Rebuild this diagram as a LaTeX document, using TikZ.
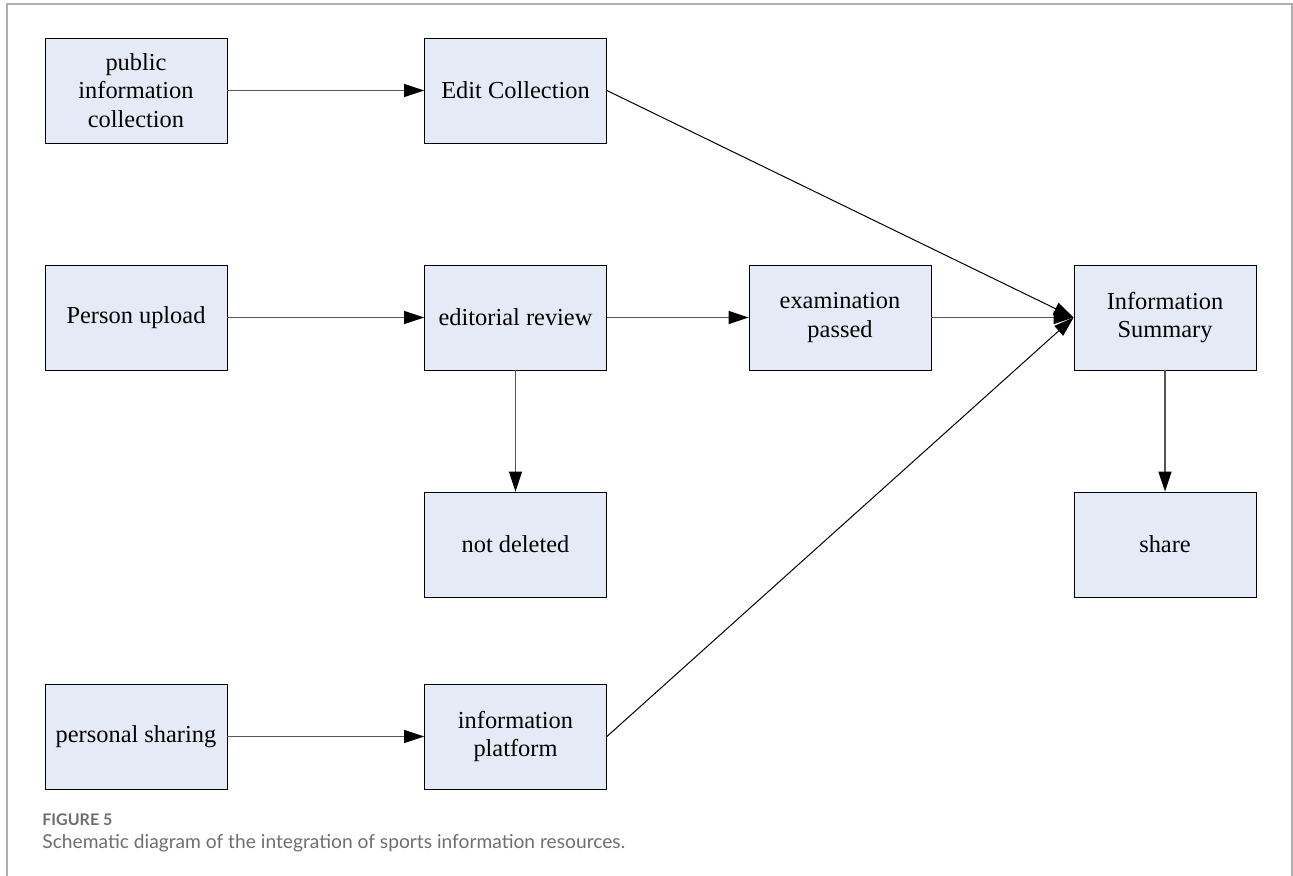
\documentclass[tikz,border=0pt]{standalone}
\usepackage{fontspec}
\setmainfont{Liberation Serif}
\newfontfamily\capfont{Lato}
\usetikzlibrary{arrows.meta}
\definecolor{boxfill}{RGB}{229,235,246}
\definecolor{linegray}{RGB}{85,85,85}
\definecolor{framegray}{RGB}{175,175,175}
\definecolor{capgray}{RGB}{110,110,110}
\begin{document}
\begin{tikzpicture}[
	x=0.5pt, y=-0.5pt,
	box/.style={draw=black, rectangle, minimum width=91pt, minimum height=52.5pt, inner sep=1pt, fill=boxfill, align=center, font=\fontsize{12.2}{14.2}\selectfont},
	>={Triangle[length=10pt, width=6.5pt, color=black, fill=black]}
	]
	
	%-----------------------
	% Frame and page size
	%-----------------------
	\useasboundingbox (0,0) rectangle (1293,876);
	\draw[framegray, line width=0.8pt] (7,876) -- (7,4) -- (1292,4) -- (1292,876);
	
	%-----------------------
	% Customizable positions
	%-----------------------
	\def\hone{90.5}    % Row 1: public collection
	\def\htwo{317.5}   % Row 2: upload and review
	\def\hthree{544.5} % Row 3: not deleted, share
	\def\hfour{736.5}  % Row 4: personal sharing
	\def\cone{136}     % Column 1
	\def\ctwo{515.5}   % Column 2
	\def\cthree{840}   % Column 3
	\def\cfour{1165}   % Column 4
	
	%-----------------------
	% Row 1
	%-----------------------
	\node[box] (pub) at (\cone,\hone) {public\\information\\collection};
	\node[box] (edit) at (\ctwo,\hone) {Edit Collection};
	
	%-----------------------
	% Row 2
	%-----------------------
	\node[box] (upload) at (\cone,\htwo) {Person upload};
	\node[box] (review) at (\ctwo,\htwo) {editorial review};
	\node[box] (exam) at (\cthree,\htwo) {examination\\passed};
	\node[box] (summary) at (\cfour,\htwo) {Information\\Summary};
	
	%-----------------------
	% Row 3
	%-----------------------
	\node[box] (notdel) at (\ctwo,\hthree) {not deleted};
	\node[box] (share) at (\cfour,\hthree) {share};
	
	%-----------------------
	% Row 4
	%-----------------------
	\node[box] (personal) at (\cone,\hfour) {personal sharing};
	\node[box] (platform) at (\ctwo,\hfour) {information\\platform};
	
	%-----------------------
	% Connections
	%-----------------------
	\tikzset{connect/.style={->, linegray, line width=0.7pt},
		diag/.style={->, black, line width=0.5pt}}
	
	% straight arrows
	\draw[connect] (pub.east) -- (edit.west);
	\draw[connect] (upload.east) -- (review.west);
	\draw[connect] (review.east) -- (exam.west);
	\draw[connect] (exam.east) -- (summary.west);
	\draw[connect] (personal.east) -- (platform.west);
	\draw[connect] (review.south) -- (notdel.north);
	\draw[connect] (summary.south) -- (share.north);
	
	% slanted arrows into the summary
	\draw[diag] (edit.east) -- (summary.west);
	\draw[diag] (platform.east) -- (summary.west);
	
	%-----------------------
	% Caption
	%-----------------------
	\node[anchor=base west, inner sep=0pt, text=capgray, font=\capfont\bfseries\fontsize{8}{9}\selectfont] (figlabel) at (42,825) {FIGURE 5};
	\node[anchor=base west, inner sep=0pt, text=capgray, font=\capfont\fontsize{9.6}{11}\selectfont] (figtext) at (42,848) {Schematic diagram of the integration of sports information resources.};
	
\end{tikzpicture}
\end{document}
